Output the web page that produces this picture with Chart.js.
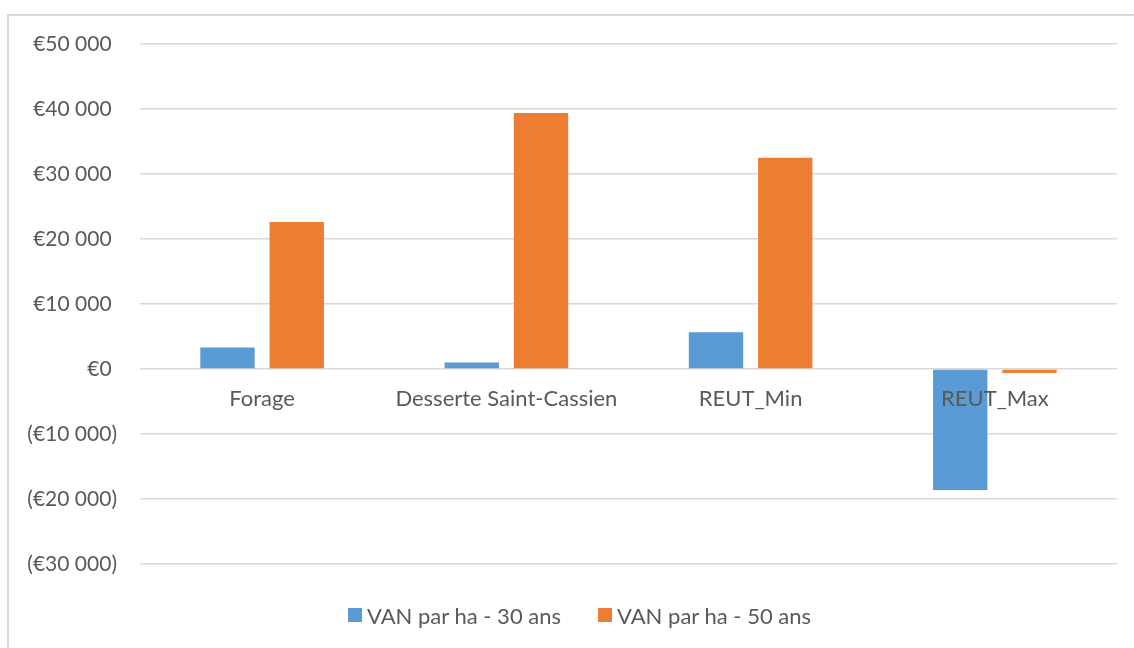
<!DOCTYPE html>
<html>
<head>
<meta charset="utf-8">
<script src="https://cdn.jsdelivr.net/npm/chart.js@4/dist/chart.umd.min.js"></script>
<style>
  html, body { margin: 0; padding: 0; background: #fff; overflow: hidden; }
  #wrap { position: absolute; left: 0; top: 0; width: 1134px; height: 648px; }
  #frame { position: absolute; left: 7px; top: 14px; width: 1200px; height: 700px;
           border: 2px solid #d9d9d9; box-sizing: border-box; pointer-events: none; }
  #legend { position: absolute; left: 348px; top: 602px; height: 26px; display: flex; align-items: center;
            font-family: Lato, "Open Sans", sans-serif; font-size: 22px; color: #595959; white-space: nowrap; }
  .item { display: flex; align-items: center; margin-right: 37px; }
  .box { width: 14px; height: 14px; margin-right: 5px; }
</style>
</head>
<body>
<div id="wrap"><canvas id="c" width="1134" height="648"></canvas></div>
<div id="frame"></div>
<div id="legend"></div>
<script>
const categories = ["Forage", "Desserte Saint-Cassien", "REUT_Min", "REUT_Max"];
const seriesNames = ["VAN par ha - 30 ans", "VAN par ha - 50 ans"];
const van30 = [3300, 1000, 5650, -18600];
const van50 = [22600, 39400, 32500, -600];
const yTicks = [50000, 40000, 30000, 20000, 10000, 0, -10000, -20000, -30000];
const colors = ["#5B9BD5", "#ED7D31"];

const FONT = "Lato, 'Open Sans', sans-serif";
const TXT = "#595959";

function fmt(v) {
  const a = Math.abs(v).toString().replace(/\B(?=(\d{3})+(?!\d))/g, " ");
  if (v < 0) return "(€" + a + ")";
  return "€" + a + " ";
}

const chart = new Chart(document.getElementById("c"), {
  type: "bar",
  data: {
    labels: categories,
    datasets: [
      { label: seriesNames[0], data: van30, backgroundColor: colors[0] },
      { label: seriesNames[1], data: van50, backgroundColor: colors[1] }
    ]
  },
  options: {
    responsive: false,
    animation: false,
    events: [],
    categoryPercentage: 0.567,
    barPercentage: 0.785,
    layout: { padding: { left: 0, right: 17, top: 44, bottom: 84 } },
    plugins: { legend: { display: false }, tooltip: { enabled: false } },
    scales: {
      x: {
        position: { y: 0 },
        grid: { display: false, drawTicks: false },
        border: { display: false },
        ticks: { z: 1, color: TXT, font: { family: FONT, size: 22 }, padding: 17, maxRotation: 0, autoSkip: false }
      },
      y: {
        min: -30000,
        max: 50000,
        afterBuildTicks(scale) { scale.ticks = yTicks.map(v => ({ value: v })); },
        afterFit(scale) { scale.width = 140; },
        grid: { color: "#d9d9d9", lineWidth: 1.5, drawTicks: false },
        border: { display: false },
        ticks: { color: TXT, font: { family: FONT, size: 21 }, padding: 23, callback: v => fmt(v) }
      }
    }
  }
});

const lg = document.getElementById("legend");
chart.data.datasets.forEach(ds => {
  const it = document.createElement("div");
  it.className = "item";
  const b = document.createElement("span");
  b.className = "box";
  b.style.background = ds.backgroundColor;
  const t = document.createElement("span");
  t.textContent = ds.label;
  it.appendChild(b); it.appendChild(t);
  lg.appendChild(it);
});
</script>
</body>
</html>
